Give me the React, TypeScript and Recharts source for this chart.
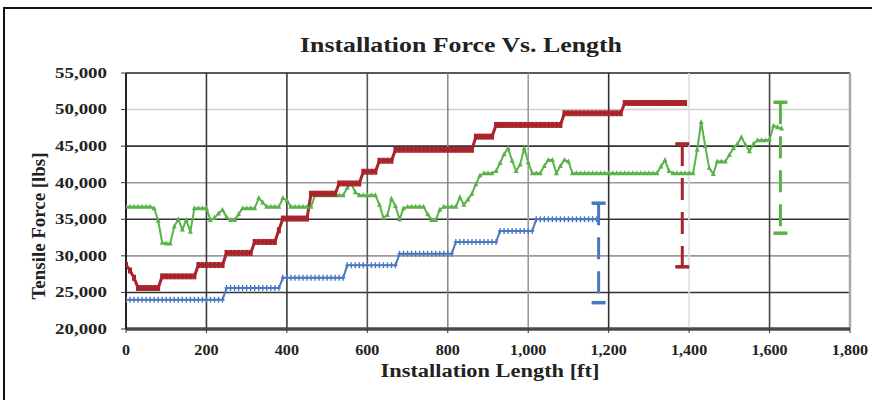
import React from 'react';
import { LineChart, Line, XAxis, YAxis, CartesianGrid } from 'recharts';

// readings are taken every 10 ft along the run
const STEP_FT = 10;

const xTicks = [0, 200, 400, 600, 800, 1000, 1200, 1400, 1600, 1800];
const yTicks = [20000, 25000, 30000, 35000, 40000, 45000, 50000, 55000];

const blueForce = [
  24000, 24000, 24000, 24000, 24000, 24000, 24000, 24000, 24000, 24000,
  24000, 24000, 24000, 24000, 24000, 24000, 24000, 24000, 24000, 24000,
  24000, 24000, 24000, 24000, 24000, 25600, 25600, 25600, 25600, 25600,
  25600, 25600, 25600, 25600, 25600, 25600, 25600, 25600, 25600, 27000,
  27000, 27000, 27000, 27000, 27000, 27000, 27000, 27000, 27000, 27000,
  27000, 27000, 27000, 27000, 27000, 28700, 28700, 28700, 28700, 28700,
  28700, 28700, 28700, 28700, 28700, 28700, 28700, 28700, 30300, 30300,
  30300, 30300, 30300, 30300, 30300, 30300, 30300, 30300, 30300, 30300,
  30300, 30300, 31900, 31900, 31900, 31900, 31900, 31900, 31900, 31900,
  31900, 31900, 31900, 33400, 33400, 33400, 33400, 33400, 33400, 33400,
  33400, 33400, 35000, 35000, 35000, 35000, 35000, 35000, 35000, 35000,
  35000, 35000, 35000, 35000, 35000, 35000, 35000, 35000,
];

const redForce = [
  28750, 28000, 27000, 25600, 25600, 25600, 25600, 25600, 25600, 27200,
  27200, 27200, 27200, 27200, 27200, 27200, 27200, 27200, 28750, 28750,
  28750, 28750, 28750, 28750, 28750, 30400, 30400, 30400, 30400, 30400,
  30400, 30400, 31900, 31900, 31900, 31900, 31900, 31900, 33500, 35100,
  35100, 35100, 35100, 35100, 35100, 35100, 38500, 38500, 38500, 38500,
  38500, 38500, 38500, 39900, 39900, 39900, 39900, 39900, 39900, 41500,
  41500, 41500, 41500, 43000, 43000, 43000, 43000, 44500, 44500, 44500,
  44500, 44500, 44500, 44500, 44500, 44500, 44500, 44500, 44500, 44500,
  44500, 44500, 44500, 44500, 44500, 44500, 44500, 46300, 46300, 46300,
  46300, 46300, 47900, 47900, 47900, 47900, 47900, 47900, 47900, 47900,
  47900, 47900, 47900, 47900, 47900, 47900, 47900, 47900, 47900, 49500,
  49500, 49500, 49500, 49500, 49500, 49500, 49500, 49500, 49500, 49500,
  49500, 49500, 49500, 49500, 50900, 50900, 50900, 50900, 50900, 50900,
  50900, 50900, 50900, 50900, 50900, 50900, 50900, 50900, 50900, 50900,
];

const greenForce = [
  36700, 36700, 36700, 36700, 36700, 36700, 36700, 36500, 34800, 31800,
  31700, 31700, 34000, 35000, 33600, 34900, 33300, 36500, 36500, 36500,
  36500, 34900, 35200, 35800, 36300, 35300, 34900, 34900, 35700, 36500,
  36500, 36500, 36500, 37900, 37300, 36700, 36700, 36700, 36700, 37900,
  37600, 36700, 36700, 36700, 36700, 36700, 36700, 38300, 38300, 38300,
  38300, 38300, 38300, 38300, 38300, 39300, 39900, 38700, 38300, 38300,
  38300, 38300, 38300, 37000, 35200, 35600, 37800, 36800, 35000, 36500,
  36700, 36700, 36700, 36700, 36700, 35700, 34900, 34900, 36300, 36700,
  36700, 36700, 36700, 38000, 37000, 37700, 38500, 39800, 41000, 41300,
  41300, 41300, 41600, 42700, 43900, 44700, 43000, 41600, 42500, 44700,
  42800, 41300, 41300, 41300, 42300, 43100, 43100, 41300, 42300, 43100,
  42900, 41300, 41300, 41300, 41300, 41300, 41300, 41300, 41300, 41300,
  41300, 41300, 41300, 41300, 41300, 41300, 41300, 41300, 41300, 41300,
  41300, 41300, 41300, 42200, 43100, 41600, 41300, 41300, 41300, 41300,
  41300, 41300, 44500, 48300, 45000, 42000, 41200, 42900, 42900, 42900,
  43800, 44700, 45300, 46200, 45200, 44300, 45300, 45800, 45800, 45800,
  45900, 47800, 47600, 47400,
];

// high / low envelope shown past the end of each run
const blueRangeAt = 1175;
const blueRange = [37200, 23600];
const redRangeAt = 1383;
const redRange = [45300, 28500];
const greenRangeAt = 1627;
const greenRange = [51000, 33100];

const BLUE = '#4a78c0';
const RED = '#a8232b';
const GREEN = '#5ab34a';
const SERIF = '"Liberation Serif", "Times New Roman", serif';

// gridline tones, in the same order as the tick arrays
const hGridTone = ['#555', '#333', '#9a9a9a', '#333', '#9a9a9a', '#333', '#cfcfcf', '#222'];
const vGridTone = ['#222', '#3a3a3a', '#3a3a3a', '#555', '#8a8a8a', '#9a9a9a', '#333', '#dcdcdc', '#444', '#a8a8a8'];

const toPoints = (vals: number[]) => vals.map((y, i) => ({ x: i * STEP_FT, y }));
const rangePoints = (at: number, r: number[]) => r.map((y) => ({ x: at, y }));

const fmt = (v: number) => v.toLocaleString('en-US');
// the printed labels are wider than the plain font, so stretch them a bit
const textLen = (s: string, size: number, k: number) =>
  [...s].reduce((w, c) => w + (c === ',' ? 0.25 : 0.5), 0) * size * k;

function YTick({ x, y, payload }: any) {
  const s = fmt(payload.value);
  const w = textLen(s, 14, 1.35);
  return (
    <text x={x - w} y={y} dy="0.35em" textAnchor="start" fontFamily={SERIF} fontWeight="bold"
      fontSize={14} fill="#222" textLength={w} lengthAdjust="spacingAndGlyphs">
      {s}
    </text>
  );
}

function XTick({ x, y, payload }: any) {
  const s = fmt(payload.value);
  const w = textLen(s, 14, 1.15);
  return (
    <text x={x - w / 2} y={y} dy="0.71em" textAnchor="start" fontFamily={SERIF} fontWeight="bold"
      fontSize={14} fill="#222" textLength={w} lengthAdjust="spacingAndGlyphs">
      {s}
    </text>
  );
}

const crossDot = (p: any) =>
  p.cx == null ? null : (
    <path key={`c${p.index}`} d={`M${p.cx},${p.cy - 3}V${p.cy + 3}M${p.cx - 2},${p.cy}H${p.cx + 2}`}
      stroke={BLUE} strokeWidth={1.4} fill="none" />
  );

const squareDot = (p: any) =>
  p.cx == null ? null : (
    <rect key={`s${p.index}`} x={p.cx - 2} y={p.cy - 3} width={4} height={6} fill={RED} />
  );

const triangleDot = (p: any) =>
  p.cx == null ? null : (
    <path key={`t${p.index}`} d={`M${p.cx},${p.cy - 3}L${p.cx + 2.5},${p.cy + 2}L${p.cx - 2.5},${p.cy + 2}Z`}
      fill={GREEN} />
  );

const capDot = (color: string) => (p: any) =>
  p.cx == null ? null : (
    <path key={`cap${p.index}`} d={`M${p.cx - 7},${p.cy}H${p.cx + 7}`} stroke={color} strokeWidth={3.5} />
  );

export default function App() {
  return (
    <div style={{ position: 'absolute', left: 0, top: 0, width: 872, height: 400, background: '#fff', overflow: 'hidden' }}>
      <div style={{ position: 'absolute', left: 3, top: 7, width: 900, height: 420, border: '2px solid #111', boxSizing: 'border-box' }} />
      <div style={{ position: 'absolute', left: 0, top: 0 }}>
        <LineChart width={872} height={400} margin={{ top: 73, right: 22, left: 66, bottom: 41 }}>
          <CartesianGrid
            horizontalValues={yTicks}
            verticalValues={xTicks}
            horizontal={(p: any) => (
              <line key={`h${p.index}`} x1={p.x1} x2={p.x2} y1={p.y1} y2={p.y2}
                stroke={hGridTone[p.index]} strokeWidth={p.index === 0 ? 3 : 1.6} />
            )}
            vertical={(p: any) => (
              <line key={`v${p.index}`} x1={p.x1} x2={p.x2} y1={p.y1} y2={p.y2}
                stroke={vGridTone[p.index]} strokeWidth={p.index === 9 ? 2.5 : 1.6} />
            )}
          />
          <XAxis type="number" dataKey="x" domain={[0, 1800]} ticks={xTicks} height={30}
            tickSize={4} tickMargin={12} tick={<XTick />} allowDataOverflow
            axisLine={{ stroke: '#4a4a4a', strokeWidth: 3 }} tickLine={{ stroke: '#333' }} />
          <YAxis type="number" domain={[20000, 55000]} ticks={yTicks} width={60}
            tickSize={5} tickMargin={14} tick={<YTick />} allowDataOverflow
            axisLine={{ stroke: '#222', strokeWidth: 2 }} tickLine={{ stroke: '#333' }} />

          <Line data={toPoints(greenForce)} dataKey="y" stroke={GREEN} strokeWidth={2}
            dot={triangleDot} isAnimationActive={false} />
          <Line data={toPoints(redForce)} dataKey="y" stroke={RED} strokeWidth={3}
            dot={squareDot} isAnimationActive={false} />
          <Line data={toPoints(blueForce)} dataKey="y" stroke={BLUE} strokeWidth={2}
            dot={crossDot} isAnimationActive={false} />

          <Line data={rangePoints(blueRangeAt, blueRange)} dataKey="y" stroke={BLUE} strokeWidth={3}
            strokeDasharray="22 12" dot={capDot(BLUE)} isAnimationActive={false} />
          <Line data={rangePoints(redRangeAt, redRange)} dataKey="y" stroke={RED} strokeWidth={3}
            strokeDasharray="22 12" dot={capDot(RED)} isAnimationActive={false} />
          <Line data={rangePoints(greenRangeAt, greenRange)} dataKey="y" stroke={GREEN} strokeWidth={3}
            strokeDasharray="22 12" dot={capDot(GREEN)} isAnimationActive={false} />
        </LineChart>
      </div>
      <svg width={872} height={400} style={{ position: 'absolute', left: 0, top: 0, pointerEvents: 'none' }}>
        <text x={461} y={52} textAnchor="middle" fontFamily={SERIF} fontWeight="bold" fontSize={21}
          fill="#222" textLength={322} lengthAdjust="spacingAndGlyphs">
          Installation Force Vs. Length
        </text>
        <text transform="translate(45,226) rotate(-90)" textAnchor="middle" fontFamily={SERIF}
          fontWeight="bold" fontSize={18} fill="#222" textLength={147} lengthAdjust="spacingAndGlyphs">
          Tensile Force [lbs]
        </text>
        <text x={490} y={377} textAnchor="middle" fontFamily={SERIF} fontWeight="bold" fontSize={18}
          fill="#222" textLength={219} lengthAdjust="spacingAndGlyphs">
          Installation Length [ft]
        </text>
      </svg>
    </div>
  );
}
